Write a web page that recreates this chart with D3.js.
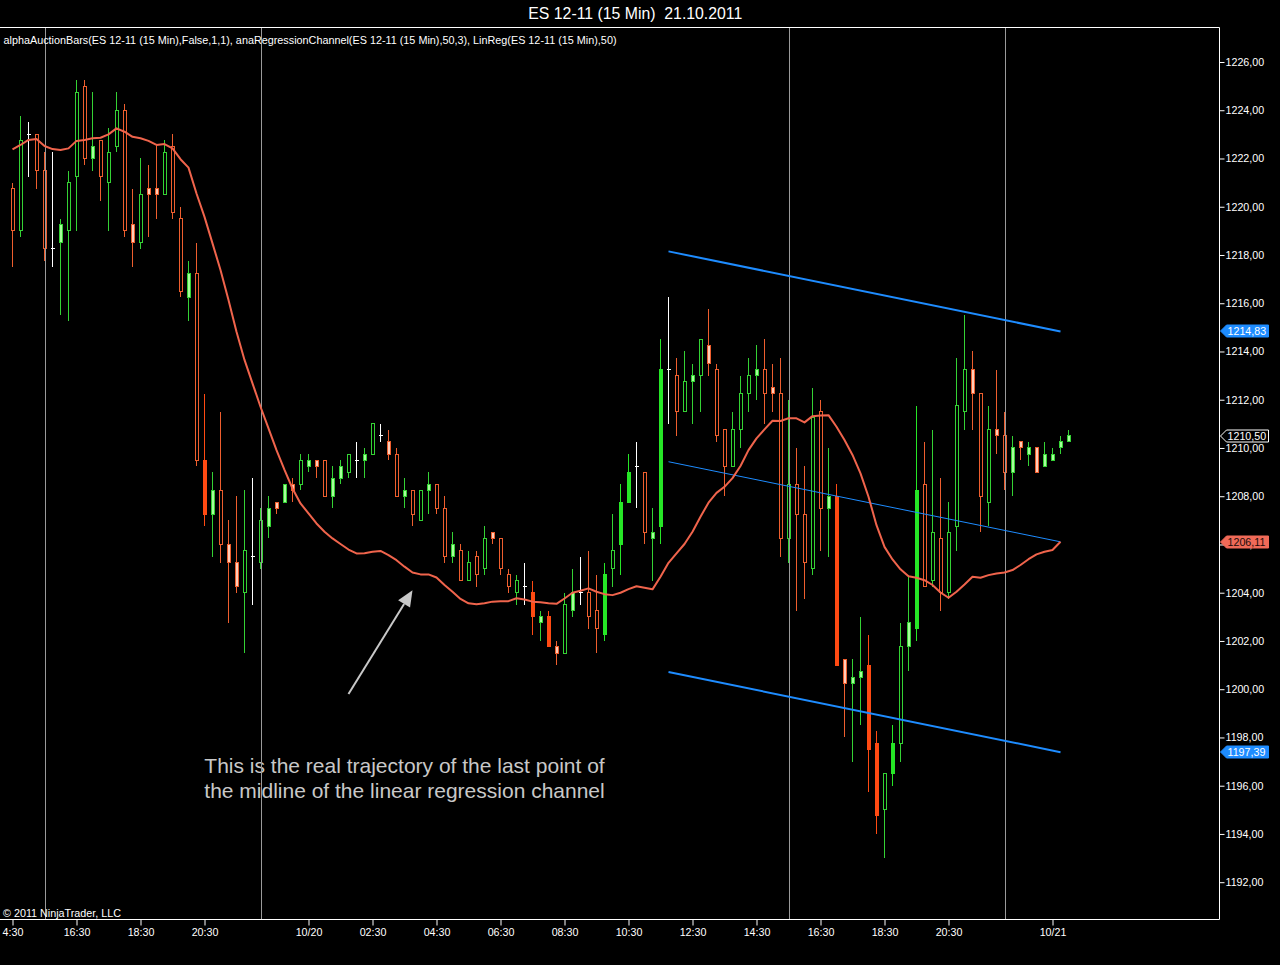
<!DOCTYPE html>
<html>
<head>
<meta charset="utf-8">
<script src="https://cdn.jsdelivr.net/npm/d3@7"></script>
<style>
  body { margin: 0; background: #000; }
  svg { display: block; font-family: Arial, "Liberation Sans", sans-serif; }
</style>
</head>
<body>
<svg id="chart" width="1280" height="965"></svg>
<script>
// ES 12-11 15 min bars (bar 0 = 14:30 on 10/19)
var opens = [1220.75,1219,1223,1223,1221.5,1218.25,1218.5,1219,1221.25,1225,1222,1222.75,1221,1222.5,1224,1219.25,1218.5,1220.75,1220.75,1220.5,
  1222.5,1219.5,1216.25,1217.25,1209.5,1207.25,1208.25,1206,1205.25,1204,1205.5,1205.25,1206.75,1207.75,1207.75,1208.5,1208.5,1209.25,1209.5,1209.5,
  1208,1208.75,1209,1209.5,1209.5,1209.75,1210.5,1210.25,1209.75,1208,1208.25,1207,1208.25,1208.5,1207.5,1205.5,1205.75,1204.5,1205.5,1205,
  1206.5,1206.25,1204.75,1204,1204.25,1204,1202.75,1203,1201.75,1201.5,1203.25,1204,1204,1203.25,1202.25,1205,1206,1207.75,1209.25,1209,
  1206.25,1206.75,1213.25,1213,1211.5,1212.75,1213,1214.25,1213.25,1210.75,1209.25,1210.75,1212.25,1213,1213.25,1212.5,1212.25,1206.25,1208.5,1207.25,
  1205,1211.5,1207.5,1208,1201.25,1200.25,1200.5,1201,1197.75,1195,1196.5,1197.75,1201.75,1202.5,1208.5,1204.5,1206.25,1204,1206.75,1211.5,
  1213.25,1212.25,1207.75,1210.75,1210.5,1209,1210.25,1209.75,1210,1209.25,1209.5,1210,1210.25];
var highs = [1221,1223.75,1223.5,1223,1222.25,1222.25,1219.5,1221.5,1225.25,1225.25,1224.75,1222.75,1223.25,1224.75,1224.25,1220.75,1222,1221.75,1222.5,1222.75,
  1223,1220,1217.75,1218.5,1212.25,1209,1211.5,1207,1208,1208.25,1208.75,1207.5,1208,1207.75,1208.5,1208.75,1209.75,1209.75,1209.5,1209.5,
  1209.25,1209.5,1209.75,1210.25,1210,1211,1211,1210.75,1210,1208.75,1208.25,1208.25,1209,1208.5,1208,1206.5,1206,1205.75,1205.75,1206.75,
  1206.5,1206.25,1205,1204.75,1205.25,1204.5,1203.25,1203.25,1202,1204,1205,1205.5,1205.75,1204.75,1205.25,1207.25,1208.5,1209.75,1210.25,1209,
  1207.5,1214.5,1216.25,1213.75,1214,1213.5,1214.5,1215.75,1213.5,1210.75,1211.5,1213,1213.75,1214.25,1214.5,1213.5,1213.75,1212,1210,1209.25,
  1212.5,1212,1210,1208.5,1201.25,1201.25,1203,1202.25,1198.25,1196.5,1198.5,1202.75,1204.75,1211.75,1210.25,1210.75,1208.75,1207.75,1213.75,1215.5,
  1214,1212.25,1211.75,1213.25,1211.5,1210.5,1210.25,1210.25,1210,1210.25,1210,1210.5,1210.75];
var lows = [1217.5,1218.75,1221.25,1220.75,1217.75,1217.5,1215.5,1215.25,1219,1221.75,1221.5,1220.25,1219,1222.25,1218.75,1217.5,1218.25,1218.75,1219.5,1220.5,
  1219.5,1216.25,1215.25,1209.25,1206.75,1205.5,1205.25,1202.75,1204,1201.5,1203.5,1205,1206.25,1207.25,1207.75,1207.75,1208.25,1209,1208.75,1208,
  1207.5,1208.5,1208.75,1208.75,1208.75,1209.75,1210.25,1209.5,1208,1207.5,1206.75,1207,1207.25,1207.25,1205.25,1205.25,1204.5,1204.5,1204.25,1204.75,
  1206,1204.75,1204,1203.5,1203.5,1202.25,1202,1201.75,1201,1201.5,1203,1203.5,1202.5,1201.5,1202,1204.25,1204.75,1207.75,1207.5,1206,
  1204.5,1206,1211,1210.5,1211.5,1211,1211.5,1213,1210.25,1208,1209.25,1210,1211.5,1212,1211,1211.5,1205.5,1205.25,1203.25,1203.75,
  1204.75,1205.75,1205.5,1201,1198,1197,1198.5,1195.75,1194,1193,1196,1197,1200.75,1202,1204.25,1204.25,1203.25,1203.75,1205.75,1210.75,
  1210.75,1206.5,1206.75,1209.75,1208.25,1208,1209.5,1209.25,1209,1209.25,1209.5,1209.75,1210.25];
var closes = [1219,1222.75,1223,1221.5,1218.25,1218.25,1219.25,1221,1224.75,1222,1222.5,1221.25,1222.25,1224,1219,1218.5,1220.5,1220.5,1220.5,1222.25,
  1219.75,1216.5,1217.25,1209.5,1207.25,1208.25,1206,1205.25,1204.25,1205.75,1205.5,1207,1207.5,1207.5,1208.5,1208.25,1209.5,1209.5,1209.25,1208,
  1208.75,1209.25,1209.75,1209.5,1209.75,1211,1210.5,1209.75,1208,1208.25,1207.25,1208.25,1208.5,1207.5,1205.5,1206,1204.5,1205.25,1204.75,1206.25,
  1206.25,1205,1204.25,1204.5,1204.25,1203,1203,1201.75,1201.5,1203.5,1204,1204,1203,1202.5,1204.75,1205.75,1207.75,1209,1209.25,1206.5,
  1206.5,1213.25,1213.25,1211.5,1212.75,1213,1214.5,1213.5,1210.5,1209.25,1210.75,1212.25,1213,1213.25,1212.25,1212.25,1206.25,1208.5,1207.25,1205.25,
  1211.25,1207.5,1208,1201,1200.25,1200.5,1200.75,1197.5,1194.75,1196.5,1197.75,1201.75,1202.75,1208.25,1204.25,1206.5,1204,1206.5,1211.75,1213.25,
  1212.25,1208,1210.75,1210.5,1209,1210,1210,1210,1209,1209.75,1209.75,1210.25,1210.5];

// bar body styles as shown by alphaAuctionBars
var solidBars = [24,65,67,74,76,77,81,103,107,108,110,113];
var lightBars = [6,10,15,17,18,22,25,27,28,32,33,34,35,37,38,40,41,44,47,49,52,55,60,66,68,70,80,85,87,93,95,
  102,104,105,106,112,120,123,125,126,127,128,129,130,131,132];

// LinReg(50), calculated on bar close, so it stops one bar before the last
var linReg = [1222.38,1222.56,1222.77,1222.81,1222.52,1222.39,1222.35,1222.42,1222.73,1222.77,1222.84,1222.86,1223.0,1223.25,1223.11,1222.9,1222.84,1222.73,1222.56,1222.6,
  1222.42,1221.97,1221.62,1220.55,1219.58,1218.48,1217.38,1216.13,1214.82,1213.65,1212.68,1211.71,1210.81,1209.91,1209.09,1208.32,1207.7,1207.29,1206.87,1206.53,
  1206.25,1206.02,1205.79,1205.63,1205.64,1205.7,1205.73,1205.56,1205.35,1205.08,1204.84,1204.76,1204.76,1204.63,1204.32,1204.04,1203.74,1203.56,1203.52,1203.56,
  1203.63,1203.65,1203.65,1203.77,1203.72,1203.63,1203.6,1203.56,1203.54,1203.76,1204.0,1204.08,1204.18,1204.04,1203.94,1203.9,1204.0,1204.15,1204.27,1204.21,
  1204.14,1204.66,1205.24,1205.63,1206.02,1206.53,1207.15,1207.73,1208.14,1208.39,1208.75,1209.25,1209.91,1210.4,1210.77,1211.13,1211.12,1211.23,1211.23,1211.06,
  1211.32,1211.35,1211.36,1210.88,1210.33,1209.71,1208.95,1207.98,1206.8,1205.9,1205.38,1204.97,1204.68,1204.62,1204.52,1204.32,1204.01,1203.79,1204.04,1204.34,
  1204.66,1204.62,1204.73,1204.8,1204.84,1204.94,1205.15,1205.39,1205.59,1205.7,1205.77,1206.11];

// anaRegressionChannel(50,3)
var channelBars = [82, 131];
var channelMid = [1209.43, 1206.11];
var channelWidth = 8.72;

var sessionBars = [4, 31, 97, 124];
var tickBars = [0, 8, 16, 24, 37, 45, 53, 61, 69, 77, 85, 93, 101, 109, 117, 130];
var tickLabels = ["4:30","16:30","18:30","20:30","10/20","02:30","04:30","06:30","08:30","10:30","12:30","14:30","16:30","18:30","20:30","10/21"];
var priceTicks = d3.range(1192, 1227, 2);

var noteLines = ["This is the real trajectory of the last point of", "the midline of the linear regression channel"];
var noteAt = [49, 1196.52];
var arrowFrom = [42, 1199.8];
var arrowTo = [50, 1204.1];

var width = 1280, height = 965,
    plotTop = 27.5, plotRight = 1219.5, plotBottom = 919.5;

var x = d3.scaleLinear().domain([0, 132]).range([12.5, 12.5 + 8 * 132]);
var y = d3.scaleLinear().domain([1192, 1226]).range([882.2, 62]);

var fmt = function(v) { return d3.format(".2f")(v).replace(".", ","); };

var svg = d3.select("#chart");
svg.append("rect").attr("width", width).attr("height", height).attr("fill", "#000");

var bars = opens.map(function(o, i) {
  var c = closes[i], kind = "hollow";
  if (o === c) kind = "doji";
  else if (solidBars.indexOf(i) >= 0) kind = "solid";
  else if (lightBars.indexOf(i) >= 0) kind = "light";
  return {i: i, o: o, h: highs[i], l: lows[i], c: c, up: c > o, kind: kind};
});

function lineColor(d) {
  if (d.kind === "doji") return "#ffffff";
  if (d.kind === "solid") return d.up ? "#26e626" : "#ff4a12";
  return d.up ? "#34d234" : "#ee5e2e";
}
function fillColor(d) {
  if (d.kind === "solid") return d.up ? "#26e626" : "#ff4a12";
  if (d.kind === "light") return d.up ? "#a6ff9a" : "#ffcdb8";
  return "#000";
}

var candles = svg.append("g").attr("shape-rendering", "crispEdges");

var cg = candles.selectAll(".bar")
    .data(bars)
  .enter().append("g")
    .attr("class", "bar");

cg.append("line")
    .attr("x1", function(d) { return x(d.i); })
    .attr("x2", function(d) { return x(d.i); })
    .attr("y1", function(d) { return y(d.h); })
    .attr("y2", function(d) { return y(d.l); })
    .attr("stroke", lineColor);

cg.filter(function(d) { return d.kind !== "doji"; }).append("rect")
    .attr("x", function(d) { return x(d.i) - 1.5; })
    .attr("y", function(d) { return y(Math.max(d.o, d.c)); })
    .attr("width", 3)
    .attr("height", function(d) { return Math.max(1, y(Math.min(d.o, d.c)) - y(Math.max(d.o, d.c))); })
    .attr("fill", fillColor)
    .attr("stroke", lineColor);

cg.filter(function(d) { return d.kind === "doji"; }).append("line")
    .attr("x1", function(d) { return x(d.i) - 2; })
    .attr("x2", function(d) { return x(d.i) + 2; })
    .attr("y1", function(d) { return y(d.c); })
    .attr("y2", function(d) { return y(d.c); })
    .attr("stroke", "#ffffff");

// annotation
var note = svg.append("text")
    .attr("x", x(noteAt[0]))
    .attr("y", y(noteAt[1]))
    .attr("text-anchor", "middle")
    .style("font-size", "21px")
    .attr("fill", "#c8c8c8");
note.selectAll("tspan")
    .data(noteLines)
  .enter().append("tspan")
    .attr("x", x(noteAt[0]))
    .attr("dy", function(d, i) { return i ? 24.6 : 0; })
    .text(function(d) { return d; });

var ax0 = x(arrowFrom[0]), ay0 = y(arrowFrom[1]),
    ax1 = x(arrowTo[0]), ay1 = y(arrowTo[1]),
    ang = Math.atan2(ay1 - ay0, ax1 - ax0),
    hl = 16, hw = 7,
    bx = ax1 - hl * Math.cos(ang), by = ay1 - hl * Math.sin(ang);
svg.append("line")
    .attr("x1", ax0).attr("y1", ay0)
    .attr("x2", bx).attr("y2", by)
    .attr("stroke", "#c8c8c8")
    .attr("stroke-width", 2);
svg.append("polygon")
    .attr("points", [[ax1, ay1],
                     [bx + hw * Math.sin(ang), by - hw * Math.cos(ang)],
                     [bx - hw * Math.sin(ang), by + hw * Math.cos(ang)]].join(" "))
    .attr("fill", "#c8c8c8");

// session breaks
svg.selectAll(".session")
    .data(sessionBars)
  .enter().append("line")
    .attr("class", "session")
    .attr("x1", function(d) { return Math.round(x(d)) + 0.5; })
    .attr("x2", function(d) { return Math.round(x(d)) + 0.5; })
    .attr("y1", plotTop)
    .attr("y2", plotBottom)
    .attr("stroke", "#9a9a9a")
    .attr("stroke-width", 1);

// regression channel
var slope = (channelMid[1] - channelMid[0]) / (channelBars[1] - channelBars[0]);
[-channelWidth, 0, channelWidth].forEach(function(off) {
  svg.append("line")
      .attr("x1", x(channelBars[0]))
      .attr("y1", y(channelMid[0] + off))
      .attr("x2", x(channelBars[1]))
      .attr("y2", y(channelMid[0] + slope * (channelBars[1] - channelBars[0]) + off))
      .attr("stroke", "#1e8cff")
      .attr("stroke-width", off === 0 ? 1 : 2);
});

// LinReg
svg.append("path")
    .datum(linReg)
    .attr("fill", "none")
    .attr("stroke", "#f0644c")
    .attr("stroke-width", 2)
    .attr("stroke-linejoin", "round")
    .attr("d", d3.line()
        .x(function(d, i) { return x(i); })
        .y(function(d) { return y(d); }));

// frame
svg.append("path")
    .attr("d", "M0," + plotTop + "H" + plotRight + "V" + plotBottom + "H0")
    .attr("fill", "none")
    .attr("stroke", "#ffffff")
    .attr("stroke-width", 1);

var yAxis = d3.axisRight(y)
    .tickValues(priceTicks)
    .tickFormat(fmt)
    .tickSize(5)
    .tickPadding(1);

var gy = svg.append("g")
    .attr("transform", "translate(" + plotRight + ",0)")
    .call(yAxis);

var xAxis = d3.axisBottom(x)
    .tickValues(tickBars)
    .tickFormat(function(d, i) { return tickLabels[i]; })
    .tickSize(6)
    .tickPadding(3);

var gx = svg.append("g")
    .attr("transform", "translate(0," + plotBottom + ")")
    .call(xAxis);

[gx, gy].forEach(function(g) {
  g.select(".domain").remove();
  g.selectAll(".tick line").attr("stroke", "#ffffff");
  g.selectAll(".tick text")
      .attr("fill", "#ffffff")
      .style("font-size", "10.7px")
      .style("font-family", "Arial, 'Liberation Sans', sans-serif");
});

// price markers on the axis
var lastClose = closes[closes.length - 1];
var markers = [
  {v: channelMid[1] + channelWidth, fill: "#1e8cff", stroke: "#1e8cff", text: "#ffffff"},
  {v: lastClose, fill: "#000000", stroke: "#ffffff", text: "#ffffff"},
  {v: channelMid[1], fill: "#f06a58", stroke: "#f06a58", text: "#1a0a08"},
  {v: channelMid[1] - channelWidth, fill: "#1e8cff", stroke: "#1e8cff", text: "#ffffff"}
];

var mk = svg.selectAll(".marker")
    .data(markers)
  .enter().append("g")
    .attr("class", "marker")
    .attr("transform", function(d) { return "translate(" + plotRight + "," + Math.round(y(d.v)) + ")"; });

mk.append("path")
    .attr("d", "M1,0L7,-6H49V6H7Z")
    .attr("fill", function(d) { return d.fill; })
    .attr("stroke", function(d) { return d.stroke; })
    .attr("stroke-width", 1);

mk.append("text")
    .attr("x", 8)
    .attr("dy", "0.36em")
    .attr("fill", function(d) { return d.text; })
    .style("font-size", "10.7px")
    .text(function(d) { return fmt(d.v); });

// header and footer texts
svg.append("text")
    .attr("x", 635.3)
    .attr("y", 19)
    .attr("text-anchor", "middle")
    .attr("fill", "#ffffff")
    .attr("textLength", 214)
    .attr("lengthAdjust", "spacingAndGlyphs")
    .style("font-size", "17px")
    .style("white-space", "pre")
    .text("ES 12-11 (15 Min)\u00a0 21.10.2011");

svg.append("text")
    .attr("x", 3.5)
    .attr("y", 43.5)
    .attr("fill", "#ffffff")
    .attr("textLength", 613)
    .attr("lengthAdjust", "spacingAndGlyphs")
    .style("font-size", "10.7px")
    .text("alphaAuctionBars(ES 12-11 (15 Min),False,1,1), anaRegressionChannel(ES 12-11 (15 Min),50,3), LinReg(ES 12-11 (15 Min),50)");

svg.append("text")
    .attr("x", 3)
    .attr("y", 916.5)
    .attr("fill", "#ffffff")
    .attr("textLength", 118)
    .attr("lengthAdjust", "spacingAndGlyphs")
    .style("font-size", "10.7px")
    .text("\u00a9 2011 NinjaTrader, LLC");
</script>
</body>
</html>
